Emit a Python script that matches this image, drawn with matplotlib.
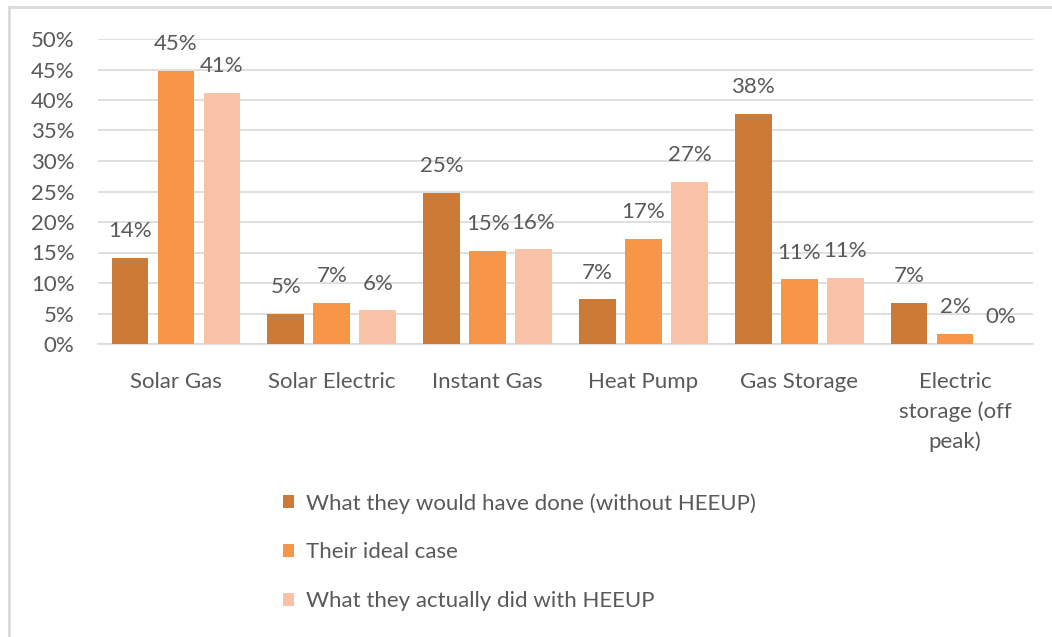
import numpy as np
import matplotlib
matplotlib.use("Agg")
import matplotlib.pyplot as plt
from matplotlib.lines import Line2D

plt.rcParams['font.family'] = ['Lato', 'DejaVu Sans']

categories = ["Solar Gas", "Solar Electric", "Instant Gas", "Heat Pump",
              "Gas Storage", "Electric\nstorage (off\npeak)"]
series_names = ["What they would have done (without HEEUP)",
                "Their ideal case",
                "What they actually did with HEEUP"]
without_heeup = [14.1, 5.0, 24.8, 7.3, 37.7, 6.8]
ideal_case = [44.8, 6.7, 15.2, 17.2, 10.6, 1.6]
actual_heeup = [41.1, 5.5, 15.5, 26.6, 10.9, 0.0]
labels_without = ["14%", "5%", "25%", "7%", "38%", "7%"]
labels_ideal = ["45%", "7%", "15%", "17%", "11%", "2%"]
labels_actual = ["41%", "6%", "16%", "27%", "11%", "0%"]

colors = ["#CC7A35", "#F79646", "#F9C1A6"]
text_color = "#595959"
grid_color = "#D9D9D9"
fs = 16

W, H = 1052, 637
fig = plt.figure(figsize=(W / 100, H / 100), dpi=100)
ax = fig.add_axes([98 / W, 1 - 344 / H, (1033 - 98) / W, (344 - 39) / H])

x = np.arange(len(categories))
width = 0.235
step = 0.295
all_vals = [without_heeup, ideal_case, actual_heeup]
all_labels = [labels_without, labels_ideal, labels_actual]
for i, (vals, labs) in enumerate(zip(all_vals, all_labels)):
    pos = x + (i - 1) * step
    ax.bar(pos, vals, width, color=colors[i], zorder=3, label=series_names[i])
    for p, v, t in zip(pos, vals, labs):
        ax.annotate(t, (p, v), xytext=(0, 15), textcoords="offset points",
                    ha="center", va="baseline", fontsize=fs, color=text_color)

ax.set_xlim(-0.5, len(categories) - 0.5)
ax.set_ylim(0, 50)
ax.set_yticks(range(0, 51, 5))
ax.set_yticklabels([f"{v}%" for v in range(0, 51, 5)])
ax.set_xticks(x)
ax.set_xticklabels(categories, linespacing=1.55)
ax.tick_params(axis="both", length=0, labelsize=fs, colors=text_color)
ax.tick_params(axis="y", pad=17)
ax.tick_params(axis="x", pad=20.5)
for lbl in ax.get_xticklabels():
    lbl.set_verticalalignment("top")
ax.yaxis.grid(True, color=grid_color, linewidth=1.2, zorder=0)
for s in ["top", "right", "left"]:
    ax.spines[s].set_visible(False)
ax.spines["bottom"].set_color(grid_color)
ax.spines["bottom"].set_linewidth(1.2)

fig.legend(loc="upper left", bbox_to_anchor=(283 / W, 1 - 493 / H),
           frameon=False, fontsize=fs, labelcolor=text_color,
           handlelength=0.5, handleheight=0.5, handletextpad=0.55,
           labelspacing=1.3, borderaxespad=0, borderpad=0)

# outer frame (left and top edges visible)
fig.add_artist(Line2D([9 / W, 9 / W], [0, 1 - 7 / H], color="#D9D9D9", lw=2, transform=fig.transFigure))
fig.add_artist(Line2D([9 / W, 1], [1 - 7 / H, 1 - 7 / H], color="#D9D9D9", lw=2, transform=fig.transFigure))

fig.savefig("out.png", dpi=100)
